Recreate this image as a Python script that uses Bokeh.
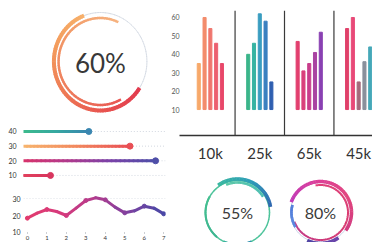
import numpy as np
from bokeh.plotting import figure
from bokeh.models import Range1d, FixedTicker, Span
from bokeh.layouts import row, column
from bokeh.embed import file_html
from bokeh.resources import INLINE
from bokeh.core.properties import value

# ---------------- data ----------------
ring_main_pct = 60
ring_main_inner_pct = 65
ring_small_pct = [55, 80]

bar_groups = ["10k", "25k", "65k", "45k"]
bars_10k = [35, 60, 54, 46, 35]
bars_25k = [40, 46, 62, 58, 25]
bars_65k = [47, 31, 35, 41, 52]
bars_45k = [54, 60, 25, 36, 44]
bar_base = 10
bar_ticks = [10, 20, 30, 40, 50, 60]

hbar_labels = [40, 30, 20, 10]
hbar_values = [46, 75, 93, 19]
hbar_max = 100

line_x = [0, 0.5, 1, 1.5, 2, 2.5, 3, 3.5, 4, 4.5, 5, 5.5, 6, 6.5, 7]
line_y = [18.4, 21.4, 23.6, 22.4, 20.0, 24.4, 29.0, 30.6, 29.4, 25.0, 21.6, 22.8, 25.6, 24.4, 21.0]
line_xticks = [0, 1, 2, 3, 4, 5, 6, 7]
line_yticks = [10, 20, 30]

# ---------------- styles ----------------
FONT = "Lato"
bar_colors = [
    ["#f7a96a", "#f38c6c", "#ef766e", "#ec6070", "#e8486a"],
    ["#3bb58a", "#36b3a2", "#3a9dc0", "#3a80c0", "#2f5fb0"],
    ["#e23f6e", "#d9407c", "#c93e8c", "#a943a2", "#8a40b2"],
    ["#e0406a", "#e84a78", "#a46a7c", "#8a909c", "#45a8b8"],
]
hbar_stops = [
    ["#3dbb8c", "#36a9a0", "#3a86b0"],
    ["#f7b56e", "#f28a5f", "#e94f55"],
    ["#d9336a", "#b23a8c", "#7a42a8", "#4f4fa8"],
    ["#e2425e", "#d8365e"],
]
line_stops = ["#e23b6e", "#d63a7c", "#b23c8e", "#7c42a0", "#4a48a6"]


def hex2rgb(h):
    h = h.lstrip("#")
    return [int(h[i:i + 2], 16) for i in (0, 2, 4)]


def grad(stops, t):
    t = min(max(t, 0.0), 1.0)
    n = len(stops) - 1
    if n == 0:
        return stops[0]
    pos = t * n
    i = min(int(pos), n - 1)
    f = pos - i
    a, b = hex2rgb(stops[i]), hex2rgb(stops[i + 1])
    c = [round(a[k] + (b[k] - a[k]) * f) for k in range(3)]
    return "#%02x%02x%02x" % tuple(c)


def draw_arc(p, r, start, span, width, stops, cw=False, n=48, ry=None):
    """Arc (elliptical if ry given) drawn as short coloured pieces."""
    ry = r if ry is None else ry
    sgn = -1 if cw else 1
    step = span / n
    xs, ys, cols = [], [], []
    for k in range(n):
        a0 = start + sgn * k * step
        a1 = start + sgn * (k + 1) * step
        lo, hi = min(a0, a1) - 0.4, max(a0, a1) + 0.4
        t = np.radians(np.linspace(lo, hi, 5))
        xs.append(list(r * np.cos(t)))
        ys.append(list(ry * np.sin(t)))
        cols.append(grad(stops, (k + 0.5) / n))
    p.multi_line(xs=xs, ys=ys, line_color=cols, line_width=width,
                 line_cap="butt", line_join="round")


def bare(w, h, xr, yr):
    p = figure(width=w, height=h, x_range=Range1d(*xr), y_range=Range1d(*yr),
               toolbar_location=None, output_backend="svg",
               x_axis_location=None, y_axis_location=None,
               min_border=0, outline_line_color=None,
               background_fill_color="white", border_fill_color="white")
    p.xgrid.visible = False
    p.ygrid.visible = False
    return p


def quiet(ax):
    ax.axis_line_color = None
    ax.major_tick_line_color = None
    ax.minor_tick_line_color = None
    ax.major_tick_in = 0
    ax.major_tick_out = 0
    ax.minor_tick_in = 0
    ax.minor_tick_out = 0
    ax.major_label_text_font = FONT


# ---------------- big ring 60% ----------------
ring60 = bare(168, 120, (-91, 77), (-59, 61))
draw_arc(ring60, 55, 0, 360, 1, ["#d6dce5"], n=60, ry=49)
draw_arc(ring60, 55, 111, ring_main_pct / 100 * 360, 4,
         ["#f7b06a", "#f39a5c", "#ee7a55", "#e8544f", "#e23a4e"], ry=49, n=72)
draw_arc(ring60, 49.5, 65, ring_main_inner_pct / 100 * 360, 2.5,
         ["#f6b27e", "#f29a68", "#ee7c5c", "#e85652"], ry=43.5, n=72)
ring60.text(x=[0], y=[-1], text=[f"{ring_main_pct}%"], text_font=value(FONT),
            text_font_size="26px", text_align="center", text_baseline="middle",
            text_color="#383838")

# ---------------- horizontal bars ----------------
hb = figure(width=168, height=63, x_range=Range1d(0, hbar_max), y_range=Range1d(4.5, 47.5),
            toolbar_location=None, output_backend="svg",
            min_border_left=23, min_border_right=3, min_border_top=0, min_border_bottom=0,
            x_axis_location=None, outline_line_color=None)
hb.xgrid.visible = False
hb.ygrid.visible = False
hb.yaxis.ticker = FixedTicker(ticks=hbar_labels)
quiet(hb.yaxis)
hb.yaxis.major_label_text_font_size = "7px"
hb.yaxis.major_label_text_color = "#333333"
hb.yaxis.major_label_standoff = 7
for lab, v, stops in zip(hbar_labels, hbar_values, hbar_stops):
    hb.segment(x0=[v], y0=[lab], x1=[hbar_max], y1=[lab], line_color="#d3d8e0",
               line_width=1, line_dash="1 2")
    n = 30
    xs = np.linspace(0, v, n + 1)
    hb.segment(x0=xs[:-1], y0=[lab] * n, x1=xs[1:], y1=[lab] * n,
               line_color=[grad(stops, (k + 0.5) / n) for k in range(n)],
               line_width=3, line_cap="round")
    hb.scatter(x=[v], y=[lab], size=6, color=grad(stops, 1.0))

# ---------------- line chart ----------------
ln = figure(width=168, height=59, x_range=Range1d(-0.2, 7.09), y_range=Range1d(9.8, 39.2),
            toolbar_location=None, output_backend="svg",
            min_border_left=20, min_border_right=0, min_border_top=0, min_border_bottom=10,
            outline_line_color=None)
ln.xgrid.visible = False
ln.ygrid.ticker = FixedTicker(ticks=[30])
ln.ygrid.grid_line_color = "#dfe2e8"
ln.ygrid.grid_line_dash = "1 2"
ln.yaxis.ticker = FixedTicker(ticks=line_yticks)
ln.xaxis.ticker = FixedTicker(ticks=line_xticks)
quiet(ln.xaxis)
quiet(ln.yaxis)
ln.yaxis.major_label_text_color = "#333333"
ln.xaxis.major_label_text_color = "#333333"
ln.yaxis.major_label_text_font_size = "7px"
ln.yaxis.major_label_standoff = 3
ln.xaxis.major_tick_line_color = "#9aa0a8"
ln.xaxis.major_tick_out = 1
ln.xaxis.major_label_text_font_size = "6px"
ln.xaxis.major_label_standoff = 2
m = len(line_x) - 1
ln.segment(x0=line_x[:-1], y0=line_y[:-1], x1=line_x[1:], y1=line_y[1:],
           line_color=[grad(line_stops, (line_x[k] + line_x[k + 1]) / 2 / 7) for k in range(m)],
           line_width=3, line_cap="round")
ix = [k for k, xv in enumerate(line_x) if xv in line_xticks]
ln.scatter(x=[line_x[k] for k in ix], y=[line_y[k] for k in ix], size=4,
           color=[grad(line_stops, line_x[k] / 7) for k in ix])

# ---------------- vertical bar chart ----------------
bc = figure(width=204, height=165, x_range=Range1d(-0.624, 3.28), y_range=Range1d(-4.1, 63.8),
            toolbar_location=None, output_backend="svg",
            min_border_left=10, min_border_right=0, min_border_top=10, min_border_bottom=30,
            outline_line_color=None)
bc.xgrid.visible = False
bc.ygrid.visible = False
groups = [bars_10k, bars_25k, bars_65k, bars_45k]
for g, (vals, cols) in enumerate(zip(groups, bar_colors)):
    xs = [g + (i - 2) * 0.117 for i in range(len(vals))]
    bc.vbar(x=xs, width=0.062, bottom=bar_base, top=vals, color=cols)
for g in range(len(bar_groups) - 1):
    bc.add_layout(Span(location=g + 0.5, dimension="height", line_color="#3a3a3a", line_width=1.2))
bc.xaxis.ticker = FixedTicker(ticks=list(range(len(bar_groups))))
bc.xaxis.major_label_overrides = {i: lab for i, lab in enumerate(bar_groups)}
quiet(bc.xaxis)
bc.xaxis.axis_line_color = "#333333"
bc.xaxis.axis_line_width = 1.3
bc.xaxis.major_label_text_font_size = "15px"
bc.xaxis.major_label_text_color = "#333333"
bc.xaxis.major_label_standoff = 8
bc.yaxis.ticker = FixedTicker(ticks=bar_ticks)
quiet(bc.yaxis)
bc.yaxis.major_label_text_font_size = "7px"
bc.yaxis.major_label_text_color = "#555555"
bc.yaxis.major_label_standoff = 0

# ---------------- small rings ----------------
r55 = bare(110, 77, (-69, 41), (-30, 47))
draw_arc(r55, 32, 0, 360, 1.5, ["#4cc39a"], n=60)
draw_arc(r55, 33.5, 125, 115, 3.5, ["#3ab8a0", "#2d9cb8", "#2f66b0"], cw=True)
draw_arc(r55, 30, 112, 80, 2.5, ["#5cc8a8", "#48bcb0"], cw=True)
draw_arc(r55, 33, 245, 50, 4, ["#3ab3a0", "#2f8cb0"])
draw_arc(r55, 32, 150, 80, 2, ["#45c090", "#3db590"])
r55.text(x=[0], y=[0], text=[f"{ring_small_pct[0]}%"], text_font=value(FONT),
         text_font_size="16px", text_align="center", text_baseline="middle", text_color="#3a3a3a")

r80 = bare(94, 77, (-42, 52), (-30, 47))
draw_arc(r80, 30, 0, 360, 1, ["#c8d2ea"], n=60)
draw_arc(r80, 27.5, 100, 260, 2, ["#e0407a", "#d83a70", "#c03a8a"], cw=True)
draw_arc(r80, 31, 160, 195, 3.5, ["#c03ab8", "#dc3f98", "#e2457e", "#d03a80"], cw=True)
draw_arc(r80, 31, 245, 60, 3.5, ["#4a3fa0", "#5a40a8", "#6a40a8"])
draw_arc(r80, 29, 165, 45, 2.5, ["#4a78d8", "#5a88e0"])
r80.text(x=[0], y=[0], text=[f"{ring_small_pct[1]}%"], text_font=value(FONT),
         text_font_size="16px", text_align="center", text_baseline="middle", text_color="#3a3a3a")

left = column(ring60, hb, ln, spacing=0)
right = column(bc, row(r55, r80, spacing=0), spacing=0)
layout = row(left, right, spacing=0,
             styles={"position": "absolute", "left": "0px", "top": "0px"})

open("out.html", "w").write(file_html(layout, INLINE))
